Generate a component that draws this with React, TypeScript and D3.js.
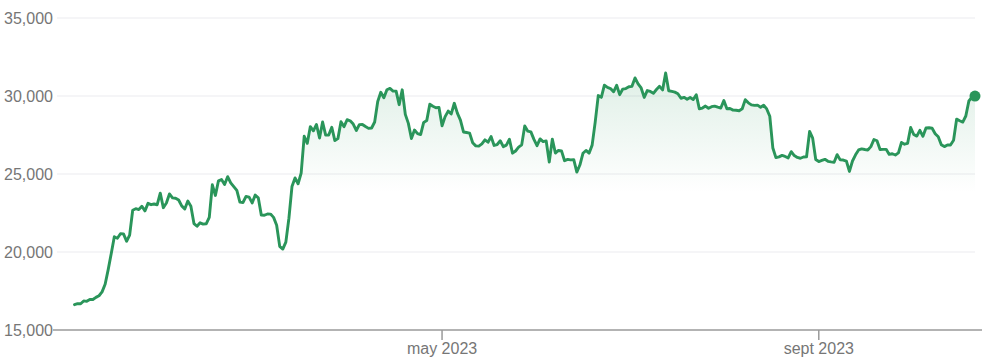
import React from "react";
import * as d3 from "d3";

const startDate = "2023-01-01";
const prices: number[] = [
  // Jan
  16625, 16688, 16680, 16863, 16836, 16951, 16955, 17091, 17196, 17446, 17934, 18869, 19909, 20976, 20880, 21170,
  21161, 20688, 21086, 22676, 22777, 22720, 22934, 22636, 23117, 23032, 23078, 23031, 23774, 22840, 23139,
  // Feb
  23723, 23471, 23449, 23331, 22955, 22760, 23264, 22939, 21819, 21651, 21870, 21788, 21808, 22220, 24307, 23623,
  24565, 24641, 24327, 24829, 24436, 24188, 23947, 23198, 23175, 23561, 23522, 23147,
  // Mar
  23646, 23475, 22362, 22354, 22435, 22429, 22219, 21718, 20363, 20187, 20633, 22163, 24197, 24746, 24375, 25053,
  27423, 26965, 28038, 27767, 28175, 27307, 28333, 27493, 27494, 27994, 27139, 27268, 28348, 28033, 28478,
  // Apr
  28411, 28199, 27790, 28168, 28177, 28044, 27925, 27947, 28333, 29653, 30235, 29892, 30400, 30485, 30318, 30315,
  29445, 30397, 28822, 28245, 27276, 27817, 27591, 27525, 28307, 28422, 29473, 29340, 29248, 29268,
  // May
  28091, 28680, 29031, 28848, 29534, 28904, 28454, 27694, 27658, 27621, 27000, 26804, 26784, 26931, 27192, 27036,
  27399, 26832, 26890, 27129, 26753, 26851, 27225, 26334, 26476, 26719, 26868, 28085, 27745, 27702, 27219,
  // Jun
  26819, 27249, 27075, 27119, 25760, 27238, 26345, 26508, 26480, 25851, 25940, 25902, 25918, 25124, 25576, 26327,
  26510, 26336, 26851, 28327, 30027, 29913, 30695, 30548, 30480, 30271, 30689, 30086, 30445, 30477,
  // Jul
  30590, 30620, 31156, 30777, 30514, 29910, 30347, 30292, 30171, 30415, 30620, 30392, 31476, 30335, 30295, 30249,
  30145, 29856, 29913, 29793, 29908, 29772, 30084, 29177, 29228, 29354, 29212, 29315, 29353, 29282, 29232,
  // Aug
  29706, 29187, 29194, 29094, 29087, 29055, 29181, 29766, 29561, 29429, 29397, 29415, 29282, 29408, 29170, 28701,
  26664, 26050, 26100, 26190, 26124, 26032, 26432, 26180, 26061, 26009, 26090, 26106, 27727, 27297, 25931,
  // Sep
  25800, 25869, 25940, 25812, 25780, 25753, 26240, 25905, 25895, 25832, 25163, 25833, 26228, 26539, 26608, 26568,
  26534, 26754, 27211, 27132, 26567, 26579, 26580, 26256, 26298, 26217, 26352, 27021, 26911, 26967,
  // Oct
  27983, 27530, 27429, 27799, 27415, 27946, 27968, 27935, 27583, 27391, 26873, 26756, 26862, 26861, 27159, 28519,
  28415, 28328, 28719, 29682, 29919, 29992,
];

const yTicks = [15000, 20000, 25000, 30000, 35000];
const xTickDates = ["2023-05-01", "2023-09-01"];
const xTickLabels = ["may 2023", "sept 2023"];

const W = 1006;
const H = 363;

export default function App() {
  const t0 = new Date(startDate + "T00:00:00Z");
  const data = prices.map((v, i) => ({ d: d3.utcDay.offset(t0, i), v }));
  const last = data[data.length - 1];

  const x = d3.scaleUtc().domain([t0, last.d]).range([74.5, 975]);
  const y = d3.scaleLinear().domain([15000, 35000]).range([330, 18]);

  const line = d3
    .line<{ d: Date; v: number }>()
    .x((p) => x(p.d))
    .y((p) => y(p.v));
  const area = d3
    .area<{ d: Date; v: number }>()
    .x((p) => x(p.d))
    .y0(y(15000))
    .y1((p) => y(p.v));

  const fmt = d3.format(",");
  const green = "#2a955a";

  return (
    <svg
      width={W}
      height={H}
      style={{ position: "absolute", left: 0, top: 0, background: "#fff" }}
      fontFamily="Arial, 'Liberation Sans', sans-serif"
    >
      <defs>
        <linearGradient id="fillGrad" gradientUnits="userSpaceOnUse" x1="0" y1={y(31500)} x2="0" y2={y(23800)}>
          <stop offset="0" stopColor={green} stopOpacity={0.15} />
          <stop offset="1" stopColor={green} stopOpacity={0} />
        </linearGradient>
      </defs>

      {yTicks.map((t) => (
        <g key={t}>
          {t !== 15000 && (
            <line x1={57} x2={975} y1={y(t)} y2={y(t)} stroke="#f2f2f4" strokeWidth={1.5} />
          )}
          <text x={53} y={y(t)} dy="0.35em" textAnchor="end" fontSize={16} fill="#767676">
            {fmt(t)}
          </text>
        </g>
      ))}

      <path d={area(data) || ""} fill="url(#fillGrad)" />

      <line x1={53} x2={982} y1={330} y2={330} stroke="#9a9a9a" strokeWidth={1.5} />
      {xTickDates.map((s, i) => {
        const xx = x(new Date(s + "T00:00:00Z"));
        return (
          <g key={s}>
            <line x1={xx} x2={xx} y1={330} y2={340} stroke="#9a9a9a" strokeWidth={1.5} />
            <text x={xx} y={354} textAnchor="middle" fontSize={16} fill="#767676">
              {xTickLabels[i]}
            </text>
          </g>
        );
      })}

      <path
        d={line(data) || ""}
        fill="none"
        stroke={green}
        strokeWidth={2.9}
        strokeLinejoin="round"
        strokeLinecap="round"
      />
      <circle cx={x(last.d)} cy={y(last.v)} r={5.5} fill={green} />
    </svg>
  );
}
